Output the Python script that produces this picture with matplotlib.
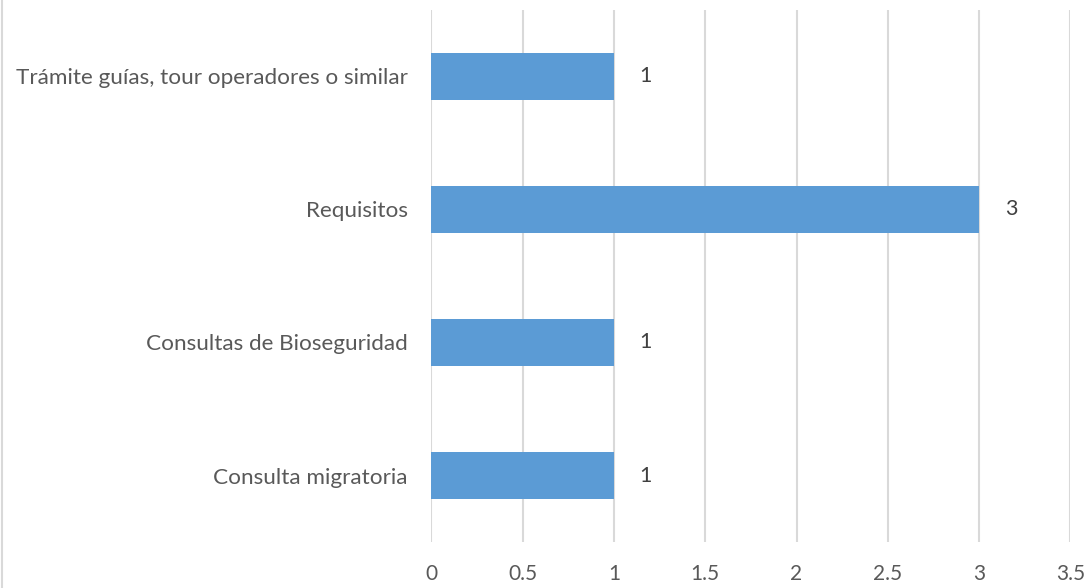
import matplotlib.pyplot as plt
from matplotlib.lines import Line2D

categories = ["Consulta migratoria", "Consultas de Bioseguridad", "Requisitos",
              "Trámite guías, tour operadores o similar"]
values = [1, 1, 3, 1]
xticks = [0, 0.5, 1, 1.5, 2, 2.5, 3, 3.5]


def main():
    plt.rcParams["font.family"] = ["Lato", "DejaVu Sans"]

    fig = plt.figure(figsize=(10.86, 5.88), dpi=100)
    ax = fig.add_axes([0.3972, 0.0782, 0.5884, 0.905])

    ypos = range(len(categories))
    ax.barh(ypos, values, height=0.35, color="#5b9bd5", zorder=3)

    for y, v in zip(ypos, values):
        ax.text(v + 0.14, y, f"{v}", va="center", ha="left",
                fontsize=15.5, color="#404040")

    ax.set_xlim(0, 3.5)
    ax.set_ylim(-0.5, len(categories) - 0.5)
    ax.set_xticks(xticks)
    ax.set_xticklabels([f"{t:g}" for t in xticks])
    ax.set_yticks(list(ypos))
    ax.set_yticklabels(categories)

    ax.grid(axis="x", color="#d9d9d9", linewidth=1.5, zorder=0)
    for s in ax.spines.values():
        s.set_visible(False)
    ax.tick_params(axis="both", length=0, colors="#595959")
    ax.tick_params(axis="x", pad=16, labelsize=15)
    ax.tick_params(axis="y", pad=17, labelsize=16.2)

    # chart frame on the left edge
    fig.add_artist(Line2D([0.002, 0.002], [0, 1], color="#d9d9d9",
                          linewidth=1.5, transform=fig.transFigure))

    fig.savefig("out.png", dpi=100)


if __name__ == "__main__":
    main()
